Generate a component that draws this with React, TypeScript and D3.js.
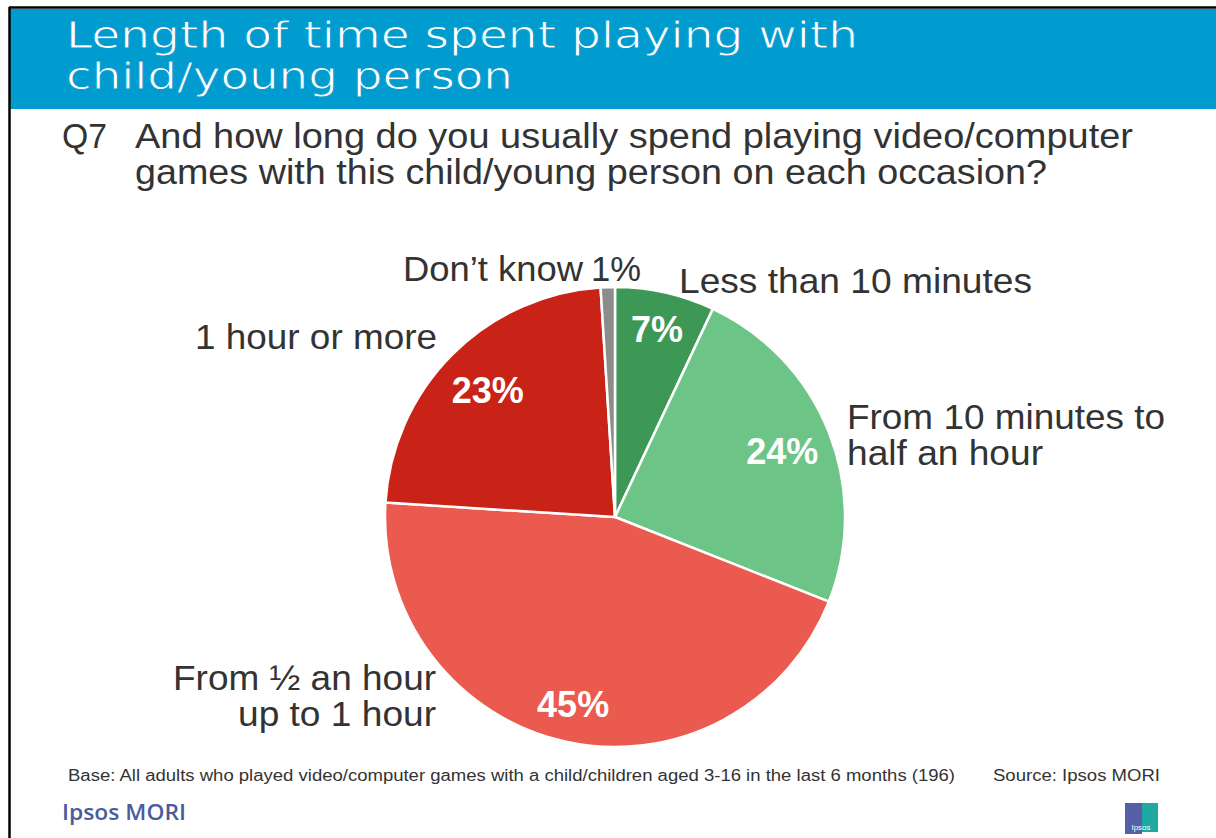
import React from "react";
import * as d3 from "d3";

const categories = [
  "Less than 10 minutes",
  "From 10 minutes to half an hour",
  "From ½ an hour up to 1 hour",
  "1 hour or more",
  "Don’t know",
];
const values = [7, 24, 45, 23, 1];
const colors = ["#3D9856", "#6CC487", "#EB5A4F", "#C92216", "#8C8C8C"];

const titleLines = ["Length of time spent playing with", "child/young person"];
const questionLines = [
  "And how long do you usually spend playing video/computer",
  "games with this child/young person on each occasion?",
];
const baseText =
  "Base: All adults who played video/computer games with a child/children aged 3-16 in the last 6 months (196)";
const sourceText = "Source: Ipsos MORI";

// layout: outer label text lines with x, baseline and fitted widths
const outerLabels = [
  { lines: ["Less than 10 minutes"], widths: [353], anchor: "start", x: 679, y: 293 },
  { lines: ["From 10 minutes to", "half an hour"], widths: [318, 196], anchor: "start", x: 847, y: 429 },
  { lines: ["From ½ an hour", "up to 1 hour"], widths: [263, 198], anchor: "end", x: 436, y: 690 },
  { lines: ["1 hour or more"], widths: [242], anchor: "end", x: 437, y: 349 },
];
const titleWidths = [792, 447];
const questionWidths = [998, 912];
const labelRadius = [193, 180, 192, 180];

export default function App() {
  const W = 1216;
  const H = 838;
  const cx = 615;
  const cy = 517;
  const r = 230;

  const pie = d3.pie<number>().sort(null).value((d) => d);
  const arcs = pie(values);
  const arcGen = d3.arc<d3.PieArcDatum<number>>().innerRadius(0).outerRadius(r);

  const font = "'Liberation Sans', Arial, sans-serif";
  const titleFont = "'DejaVu Sans', Verdana, sans-serif";
  const barBlue = "#009BCF";

  return (
    <svg
      width={W}
      height={H}
      style={{ position: "absolute", left: 0, top: 0, background: "#fff" }}
    >
      <rect x={0} y={0} width={W} height={H} fill="#fff" />
      <rect x={10} y={9} width={W - 10} height={100} fill={barBlue} />
      <line x1={9} x2={W} y1={7.5} y2={7.5} stroke="#000" strokeWidth={2.5} />
      <line x1={9.5} x2={9.5} y1={7} y2={H} stroke="#000" strokeWidth={2.5} />
      {titleLines.map((t, i) => (
        <text
          key={i}
          x={66}
          y={48 + i * 41}
          fill="#fff"
          stroke={barBlue}
          strokeWidth={0.9}
          fontFamily={titleFont}
          fontWeight={400}
          fontSize={38}
          textLength={titleWidths[i]}
          lengthAdjust="spacingAndGlyphs"
        >
          {t}
        </text>
      ))}
      <text x={62} y={148} fill="#333" fontFamily={font} fontSize={35} textLength={45} lengthAdjust="spacingAndGlyphs">
        Q7
      </text>
      {questionLines.map((t, i) => (
        <text
          key={i}
          x={135}
          y={148 + i * 36}
          fill="#333"
          fontFamily={font}
          fontSize={35}
          textLength={questionWidths[i]}
          lengthAdjust="spacingAndGlyphs"
        >
          {t}
        </text>
      ))}

      <g transform={`translate(${cx},${cy})`}>
        {arcs.map((a, i) => (
          <path
            key={i}
            d={arcGen(a) || ""}
            fill={colors[i]}
            stroke="#fff"
            strokeWidth={2.5}
            strokeLinejoin="round"
          />
        ))}
        {arcs.slice(0, 4).map((a, i) => {
          const lr = labelRadius[i];
          const [lx, ly] = d3
            .arc<d3.PieArcDatum<number>>()
            .innerRadius(lr)
            .outerRadius(lr)
            .centroid(a);
          return (
            <text
              key={i}
              x={lx}
              y={ly}
              dy="0.36em"
              textAnchor="middle"
              fill="#fff"
              fontFamily={font}
              fontWeight={700}
              fontSize={36}
            >
              {`${values[i]}%`}
            </text>
          );
        })}
      </g>

      {outerLabels.map((l, i) =>
        l.lines.map((ln, j) => (
          <text
            key={`${i}-${j}`}
            x={l.x}
            y={l.y + j * 36}
            textAnchor={l.anchor as any}
            fill="#333"
            fontFamily={font}
            fontSize={35}
            textLength={l.widths[j]}
            lengthAdjust="spacingAndGlyphs"
          >
            {ln}
          </text>
        ))
      )}
      <text
        x={403}
        y={281}
        fill="#333"
        fontFamily={font}
        fontSize={35}
        textLength={180}
        lengthAdjust="spacingAndGlyphs"
      >
        {categories[4]}
      </text>
      <text
        x={591}
        y={281}
        fill="#333"
        fontFamily={font}
        fontSize={35}
        textLength={50}
        lengthAdjust="spacingAndGlyphs"
      >
        {`${values[4]}%`}
      </text>

      <text x={68} y={781} fill="#333" fontFamily={font} fontSize={16} textLength={887} lengthAdjust="spacingAndGlyphs">
        {baseText}
      </text>
      <text x={993} y={781} fill="#333" fontFamily={font} fontSize={16} textLength={167} lengthAdjust="spacingAndGlyphs">
        {sourceText}
      </text>
      <text
        x={62}
        y={820}
        fill="#4A5B9E"
        fontFamily="'Open Sans', 'DejaVu Sans', sans-serif"
        fontWeight={600}
        fontSize={21}
        textLength={124}
        lengthAdjust="spacingAndGlyphs"
      >
        Ipsos MORI
      </text>
      <g transform="translate(1125,803)">
        <rect x={0} y={0} width={17} height={31} fill="#5560A9" />
        <rect x={17} y={0} width={16} height={29} fill="#20A9A2" />
        <text x={16} y={27} textAnchor="middle" fill="#fff" fontFamily={font} fontSize={8}>
          Ipsos
        </text>
      </g>
    </svg>
  );
}
